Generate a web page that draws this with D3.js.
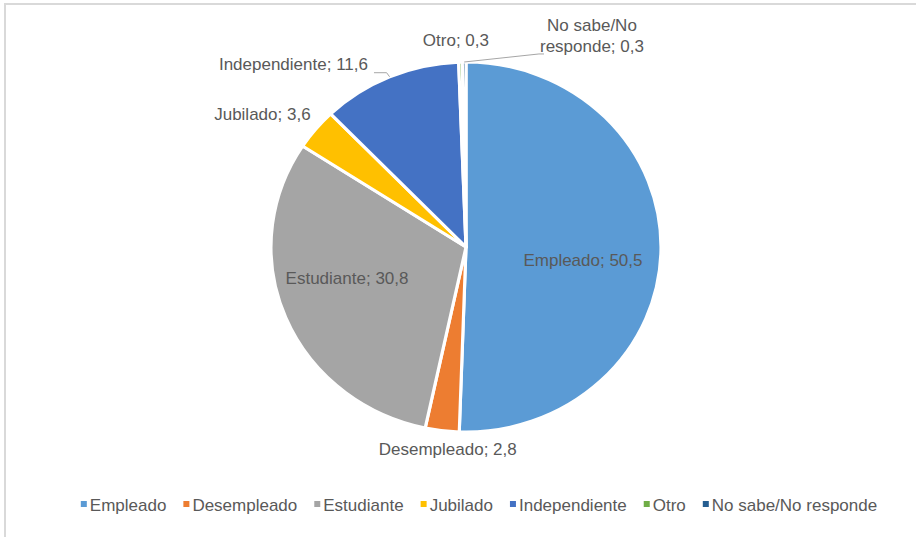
<!DOCTYPE html>
<html>
<head>
<meta charset="utf-8">
<script src="https://cdn.jsdelivr.net/npm/d3@7"></script>
<style>
  body { margin: 0; background: #fff; }
  svg text { font-family: "Liberation Sans", Arial, sans-serif; fill: #595959; }
</style>
</head>
<body>
<script>
// chart data
var categories = ['Empleado', 'Desempleado', 'Estudiante', 'Jubilado', 'Independiente', 'Otro', 'No sabe/No responde'];
var values = [50.5, 2.8, 30.8, 3.6, 11.6, 0.3, 0.3];
var valueLabels = ['50,5', '2,8', '30,8', '3,6', '11,6', '0,3', '0,3'];
var colors = ['#5B9BD5', '#ED7D31', '#A5A5A5', '#FFC000', '#4472C4', '#70AD47', '#255E91'];

var width = 916, height = 537;
var cx = 466, cy = 247, rx = 195, ry = 185;

// where each data label sits: k = fraction of radius along mid angle, plus nudges
var labelLayout = [
  {k: 0.6, dx: 0, dy: 11, anchor: 'middle'},
  {k: 1.1, dx: 8, dy: 0, anchor: 'middle'},
  {k: 0.66, dx: 0, dy: -16, anchor: 'middle'},
  {k: 1.1, dx: 10, dy: -3, anchor: 'end'},
  {k: 1.1, dx: -14, dy: 4, anchor: 'end', leader: true},
  {k: 1.1, dx: -4, dy: -4, anchor: 'middle'},
  {k: 1.1, dx: 128, dy: -8, anchor: 'middle', leader: true, wrap: ['No sabe/No', 'responde']}
];

var svg = d3.select('body').append('svg')
  .attr('width', width)
  .attr('height', height);

// chart frame
svg.append('rect')
  .attr('x', 5).attr('y', 4)
  .attr('width', 940).attr('height', 560)
  .attr('fill', 'none')
  .attr('stroke', '#d9d9d9')
  .attr('stroke-width', 2);

var pie = d3.pie().sort(null).value(function (d) { return d; });
var arcs = pie(values);
var arc = d3.arc().innerRadius(0).outerRadius(ry);

var g = svg.append('g')
  .attr('transform', 'translate(' + cx + ',' + cy + ') scale(' + (rx / ry) + ',1)');

g.selectAll('path')
  .data(arcs)
  .enter()
  .append('path')
  .attr('d', arc)
  .attr('fill', function (d, i) { return colors[i]; })
  .attr('stroke', '#fff')
  .attr('stroke-width', 3)
  .attr('stroke-linejoin', 'round');

function polar(a, k) {
  return [cx + k * rx * Math.sin(a), cy - k * ry * Math.cos(a)];
}

var labels = svg.append('g').attr('font-size', 17);

arcs.forEach(function (d, i) {
  var lay = labelLayout[i];
  var mid = (d.startAngle + d.endAngle) / 2;
  var p = polar(mid, lay.k);
  var x = p[0] + lay.dx, y = p[1] + lay.dy;
  var t = labels.append('text')
    .attr('text-anchor', lay.anchor)
    .attr('x', x);
  if (lay.wrap) {
    t.append('tspan').attr('x', x).attr('y', y - 10.5).attr('dy', '0.35em').text(lay.wrap[0]);
    t.append('tspan').attr('x', x).attr('y', y + 10.5).attr('dy', '0.35em').text(lay.wrap[1] + '; ' + valueLabels[i]);
  } else {
    t.attr('y', y).attr('dy', '0.35em').text(categories[i] + '; ' + valueLabels[i]);
  }

  if (lay.leader) {
    var edge = polar(mid, 1.0);
    var box = t.node().getBBox();
    var pts;
    if (lay.anchor === 'end') {
      var ly = box.y + box.height - 1;
      pts = [[box.x + box.width + 6, ly], [edge[0] - 3, ly], edge];
    } else {
      var ly2 = box.y + box.height - 2;
      pts = [[box.x + 4, ly2], [box.x - 1, ly2], edge];
    }
    labels.append('path')
      .attr('d', d3.line()(pts))
      .attr('fill', 'none')
      .attr('stroke', '#a6a6a6')
      .attr('stroke-width', 1);
  }
});

// legend
var legend = svg.append('g').attr('font-size', 17);
var legendY = 505, markerSize = 6, itemGap = 17, textGap = 3;
var items = legend.selectAll('g')
  .data(categories)
  .enter()
  .append('g');

items.append('rect')
  .attr('width', markerSize)
  .attr('height', markerSize)
  .attr('y', legendY - markerSize / 2 - 1)
  .attr('fill', function (d, i) { return colors[i]; });

items.append('text')
  .attr('x', markerSize + textGap)
  .attr('y', legendY)
  .attr('dy', '0.35em')
  .text(function (d) { return d; });

var offsets = [], xpos = 0;
items.each(function () {
  offsets.push(xpos);
  xpos += markerSize + textGap + d3.select(this).select('text').node().getComputedTextLength() + itemGap;
});
var total = xpos - itemGap;
var startX = 479 - total / 2;
items.attr('transform', function (d, i) { return 'translate(' + (startX + offsets[i]) + ',0)'; });
</script>
</body>
</html>
